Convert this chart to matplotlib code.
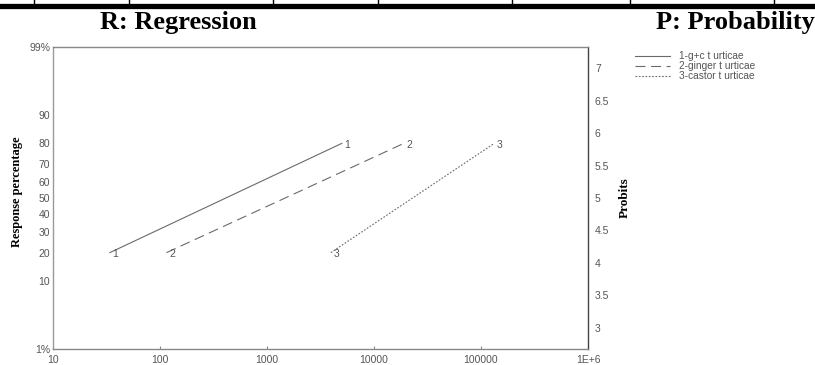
import matplotlib
matplotlib.use("Agg")
import matplotlib.pyplot as plt
from matplotlib.lines import Line2D
from statistics import NormalDist
import numpy as np

# ---- data ----
series_names = ["1-g+c t urticae", "2-ginger t urticae", "3-castor t urticae"]
series_labels = ["1", "2", "3"]
dose_g = [34, 5000]
dose_ginger = [115, 19000]
dose_castor = [3950, 133000]
response_pct = [20, 80]

pct_ticks = [1, 10, 20, 30, 40, 50, 60, 70, 80, 90, 99]
pct_tick_labels = ["1%", "10", "20", "30", "40", "50", "60", "70", "80", "90", "99%"]
probit_ticks = [3, 3.5, 4, 4.5, 5, 5.5, 6, 6.5, 7]
probit_tick_labels = ["3", "3.5", "4", "4.5", "5", "5.5", "6", "6.5", "7"]
x_ticks = [10, 100, 1000, 10000, 100000, 1000000]
x_tick_labels = ["10", "100", "1000", "10000", "100000", "1E+6"]

nd = NormalDist()
def probit(p):
    return 5 + nd.inv_cdf(p / 100.0)

fig = plt.figure(figsize=(8.15, 3.65), dpi=100)
ax = fig.add_axes([53 / 815, 1 - 349 / 365, 535 / 815, 302 / 365])

gray_line = "#6a6a6a"
tick_gray = "#555555"
styles = ["-", (0, (9, 5)), (0, (1.5, 1.5))]
doses = [dose_g, dose_ginger, dose_castor]
yv = [probit(p) for p in response_pct]
for d, ls, name, lab in zip(doses, styles, series_names, series_labels):
    ax.plot(d, yv, color=gray_line, lw=0.8, linestyle=ls, label=name)
    for xx, yy in zip(d, yv):
        ax.text(xx * 1.06, yy - 0.02, lab, fontsize=7.5, color=tick_gray,
                ha="left", va="center", family="Liberation Sans")

ax.set_xscale("log")
ax.set_xlim(10, 1e6)
ax.set_ylim(probit(1), probit(99))
ax.set_xticks(x_ticks)
ax.set_xticklabels(x_tick_labels)
ax.xaxis.set_minor_locator(matplotlib.ticker.NullLocator())
ax.set_yticks([probit(p) for p in pct_ticks])
ax.set_yticklabels(pct_tick_labels)
ax.tick_params(axis="x", labelsize=7.5, labelcolor=tick_gray, length=2.5,
               direction="in", color="#888888", pad=4)
ax.tick_params(axis="y", labelsize=7.5, labelcolor=tick_gray, length=0, pad=2)
for lab in ax.get_xticklabels() + ax.get_yticklabels():
    lab.set_family("Liberation Sans")
ax.spines["left"].set_color("#999999")
ax.spines["bottom"].set_color("#888888")
ax.spines["top"].set_color("#888888")
ax.spines["right"].set_color("#444444")
for s in ax.spines.values():
    s.set_linewidth(1.0)
ax.set_ylabel("Response percentage", fontsize=9, fontweight="bold",
              family="Liberation Serif", ha="center", va="center")
ax.yaxis.set_label_coords((17 - 53) / 535, 0.52)

ax2 = ax.twinx()
ax2.set_ylim(ax.get_ylim())
ax2.set_yticks(probit_ticks)
ax2.set_yticklabels(probit_tick_labels)
ax2.tick_params(axis="y", labelsize=7.5, labelcolor=tick_gray, length=0, pad=5)
for lab in ax2.get_yticklabels():
    lab.set_family("Liberation Sans")
for s in ax2.spines.values():
    s.set_visible(False)
ax2.set_ylabel("Probits", fontsize=9.5, fontweight="bold", family="Liberation Serif",
               rotation=90, labelpad=7)

leg = ax.legend(loc="upper left", bbox_to_anchor=(628 / 815, 1 - 44 / 365),
                bbox_transform=fig.transFigure, frameon=False,
                handlelength=3.4, handletextpad=0.9, labelspacing=0.0,
                borderpad=0.2,
                prop={"family": "Liberation Sans", "size": 7.3})
for t in leg.get_texts():
    t.set_color(tick_gray)

# titles
fig.text(178 / 815, 1 - 22 / 365, "R: Regression", fontsize=19, fontweight="bold",
         family="Liberation Serif", ha="center", va="center")
fig.text(815 / 815, 1 - 22 / 365, "P: Probability", fontsize=19, fontweight="bold",
         family="Liberation Serif", ha="right", va="center")

# table border decoration at the top
fig.add_artist(Line2D([0, 1], [1 - 5.5 / 365] * 2, transform=fig.transFigure,
                      color="black", lw=3.8))
for vx in [34, 129, 273, 378, 512, 630, 774]:
    fig.add_artist(Line2D([vx / 815] * 2, [1, 1 - 4 / 365], transform=fig.transFigure,
                          color="black", lw=1.0))

fig.savefig("out.png", dpi=100)
